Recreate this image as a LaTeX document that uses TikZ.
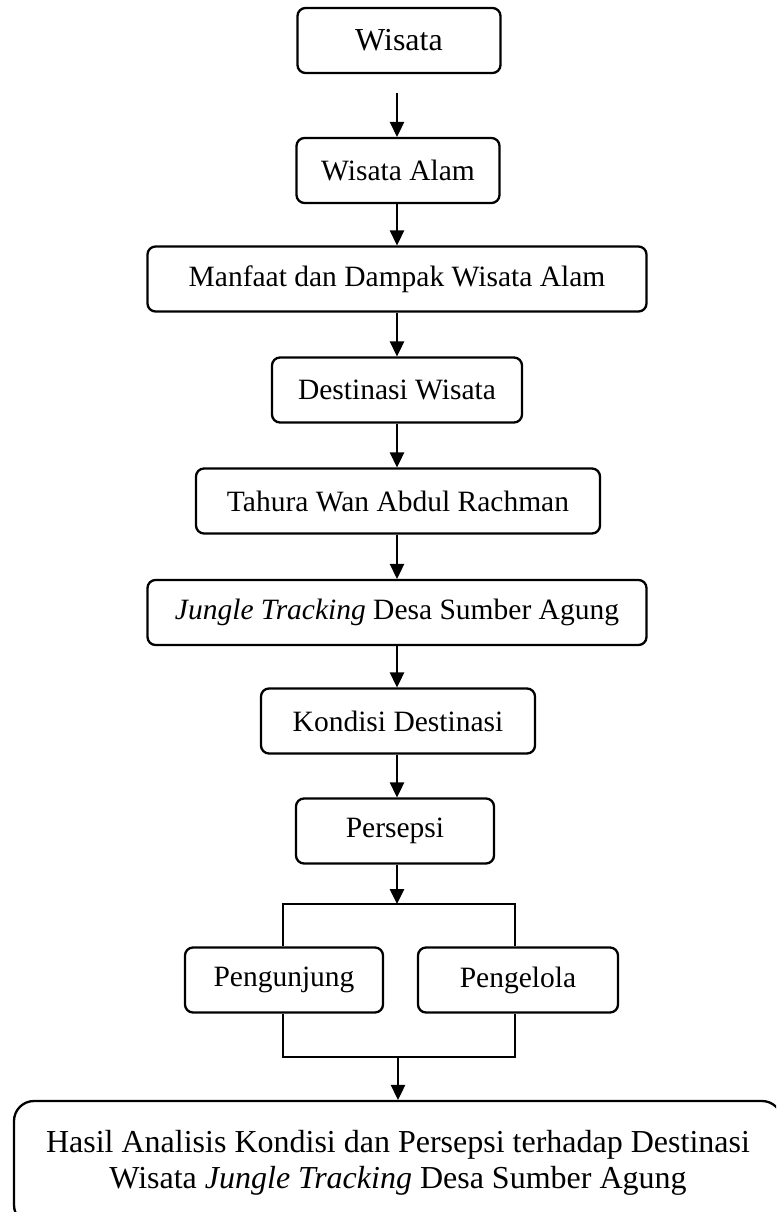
\documentclass[tikz,border=0pt]{standalone}
\usepackage{fontspec}
\setmainfont{Liberation Serif}
\usetikzlibrary{arrows.meta}
\begin{document}
\begin{tikzpicture}[x=1pt,y=-1pt,
  box/.style={draw, line width=2.3pt, rounded corners=8pt, minimum height=65pt,
    inner sep=0pt, font=\fontsize{29.5}{34}\selectfont, anchor=center},
  bigtext/.style={font=\fontsize{32}{35.5}\selectfont},
  arr/.style={-{Triangle[width=14.5pt,length=15pt]}, line width=1.3pt},
  thin/.style={line width=1.1pt}]
\useasboundingbox (0,0) rectangle (776,1212);
\fill[white] (0,0) rectangle (776,1212);
\clip (0,0) rectangle (776,1212);

\node[box, bigtext, minimum width=203pt] (w)  at (399,40.5)  {Wisata};
\node[box, minimum width=203pt] (wa) at (398,170.5) {Wisata Alam};
\node[box, minimum width=499pt] (md) at (397,279)   {Manfaat dan Dampak Wisata Alam};
\node[box, minimum width=250pt] (dw) at (397,390)   {Destinasi Wisata};
\node[box, minimum width=404pt] (th) at (398,501)   {Tahura Wan Abdul Rachman};
\node[box, minimum width=499pt] (jt) at (397,612.5) {\textit{Jungle Tracking} Desa Sumber Agung};
\node[box, minimum width=274pt] (kd) at (398,721)   {Kondisi Destinasi};
\node[box, minimum width=198pt] (ps) at (395,831)   {Persepsi};
\node[box, minimum width=198pt] (pg) at (284,980)   {Pengunjung};
\node[box, minimum width=200pt] (pl) at (518,980)   {Pengelola};
\node[box, bigtext, minimum width=768pt, minimum height=124pt, rounded corners=20pt, align=center]
  (ha) at (398,1163) {Hasil Analisis Kondisi dan Persepsi terhadap Destinasi\\Wisata \textit{Jungle Tracking} Desa Sumber Agung};

\coordinate (a0) at (397,93);
\coordinate (bt) at (398,904);
\coordinate (bb) at (398,1057);
\coordinate (xl) at (283,0);
\coordinate (xr) at (515,0);

\draw[arr] (a0) -- (a0 |- wa.north);
\draw[arr] (wa.south -| a0) -- (a0 |- md.north);
\draw[arr] (md.south -| a0) -- (a0 |- dw.north);
\draw[arr] (dw.south -| a0) -- (a0 |- th.north);
\draw[arr] (th.south -| a0) -- (a0 |- jt.north);
\draw[arr] (jt.south -| a0) -- (a0 |- kd.north);
\draw[arr] (kd.south -| a0) -- (a0 |- ps.north);
\draw[arr] (ps.south -| a0) -- (a0 |- bt);
\draw[thin] (pg.north -| xl) |- (bt) -| (pl.north -| xr);
\draw[thin] (pg.south -| xl) |- (bb) -| (pl.south -| xr);
\draw[arr] (bb) -- (ha.north -| bb);
\end{tikzpicture}
\end{document}
